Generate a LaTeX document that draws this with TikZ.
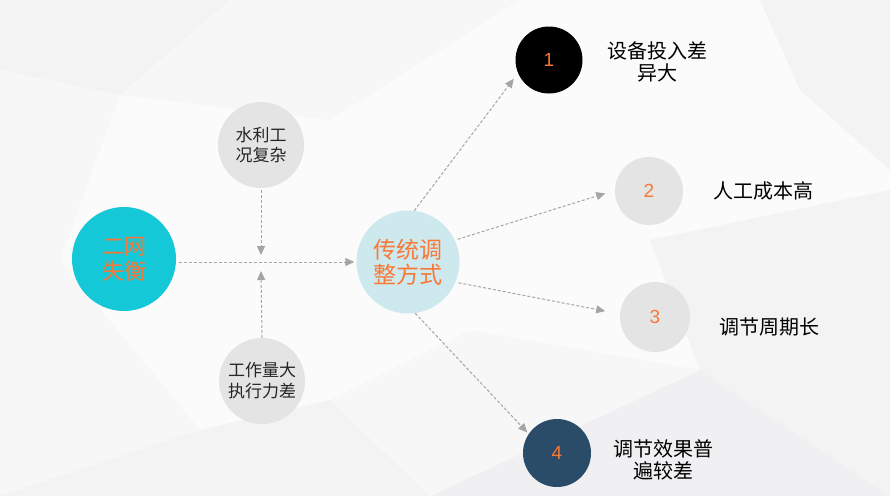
\documentclass[tikz,border=0pt]{standalone}
\usepackage{fontspec}
\setmainfont{Liberation Sans}
\newfontfamily\cjk{Noto Sans CJK SC}
\usetikzlibrary{arrows.meta}
\definecolor{orng}{RGB}{250,120,55}
\definecolor{cyanA}{RGB}{20,200,215}
\definecolor{cyanL}{RGB}{205,233,238}
\definecolor{gcirc}{RGB}{228,228,228}
\definecolor{navy}{RGB}{42,76,104}
\definecolor{arr}{RGB}{165,165,165}
\definecolor{bg0}{RGB}{251,251,252}
\definecolor{bgA}{RGB}{243,243,244}
\definecolor{bgB}{RGB}{240,240,242}
\definecolor{bgC}{RGB}{247,247,248}
\begin{document}
\begin{tikzpicture}[x=1pt,y=-1pt,
  circ/.style={circle,inner sep=0pt,align=center},
  lbl/.style={inner sep=0pt,align=center,font=\cjk\fontsize{20}{22}\selectfont,text=black},
  darr/.style={draw=arr,line width=1pt,dash pattern=on 3pt off 2pt,-{Triangle[length=9pt,width=8pt]}}]
% background
\fill[bg0] (0,0) rectangle (890,496);
\fill[bgA] (0,0) -- (230,0) -- (120,95) -- (0,70) -- cycle;
\fill[bgC] (230,0) -- (520,0) -- (330,120) -- (120,95) -- cycle;
\fill[bgC] (0,70) -- (120,95) -- (60,260) -- (0,300) -- cycle;
\fill[bgA] (760,0) -- (890,0) -- (890,170) -- (800,90) -- cycle;
\fill[bgC] (0,300) -- (60,260) -- (200,430) -- (0,496) -- cycle;
\fill[bgA] (200,430) -- (330,400) -- (430,496) -- (0,496) -- cycle;
\fill[bgB] (430,496) -- (700,370) -- (890,496) -- cycle;
\fill[bgA] (650,240) -- (890,190) -- (890,496) -- (700,370) -- cycle;
\fill[bgC] (330,400) -- (470,330) -- (700,370) -- (430,496) -- cycle;
% nodes
\node[circ,fill=cyanA,minimum size=104pt,text=orng,font=\cjk\fontsize{22}{25}\selectfont] (ew) at (124,259) {二网\\失衡};
\node[circ,fill=cyanL,minimum size=103pt,text=orng,font=\cjk\fontsize{23}{25}\selectfont] (ct) at (408,262) {传统调\\整方式};
\node[circ,fill=gcirc,minimum size=86pt,text=black!85,font=\cjk\fontsize{17}{20}\selectfont] (sl) at (261,145) {水利工\\况复杂};
\node[circ,fill=gcirc,minimum size=86pt,text=black!85,font=\cjk\fontsize{17}{21}\selectfont] (gz) at (262,381) {工作量大\\执行力差};
\node[circ,fill=black,minimum size=67pt,text=orng,font=\fontsize{19}{20}\selectfont] (n1) at (549,60) {1};
\node[circ,fill=gcirc,minimum size=68pt,text=orng,font=\fontsize{19}{20}\selectfont] (n2) at (649,191) {2};
\node[circ,fill=gcirc,minimum size=70pt,text=orng,font=\fontsize{19}{20}\selectfont] (n3) at (655,317) {3};
\node[circ,fill=navy,minimum size=68pt,text=orng,font=\fontsize{19}{20}\selectfont] (n4) at (557,453) {4};
% labels
\node[lbl] (t1) at (657,62) {设备投入差\\异大};
\node[lbl] (t2) at (763,191) {人工成本高};
\node[lbl] (t3) at (769,327) {调节周期长};
\node[lbl] (t4) at (663,460) {调节效果普\\遍较差};
% connectors
\coordinate (mid) at (261,262);
\draw[darr] ([xshift=3pt]ew.east |- ct.west) -- ([xshift=-2pt]ct.west);
\draw[darr,shorten <=2pt] (sl.south) -- ([yshift=7pt]mid);
\draw[darr] (gz.north) -- ([yshift=-9pt]mid);
\draw[darr,shorten >=7pt] (ct.83) -- (n1.203);
\draw[darr,shorten <=3pt,shorten >=10pt] (ct.25) -- (n2.179);
\draw[darr,shorten <=3pt,shorten >=15pt] (ct.-23) -- (n3.175);
\draw[darr,shorten >=2pt] (ct.-82) -- (n4.146);
\end{tikzpicture}
\end{document}
